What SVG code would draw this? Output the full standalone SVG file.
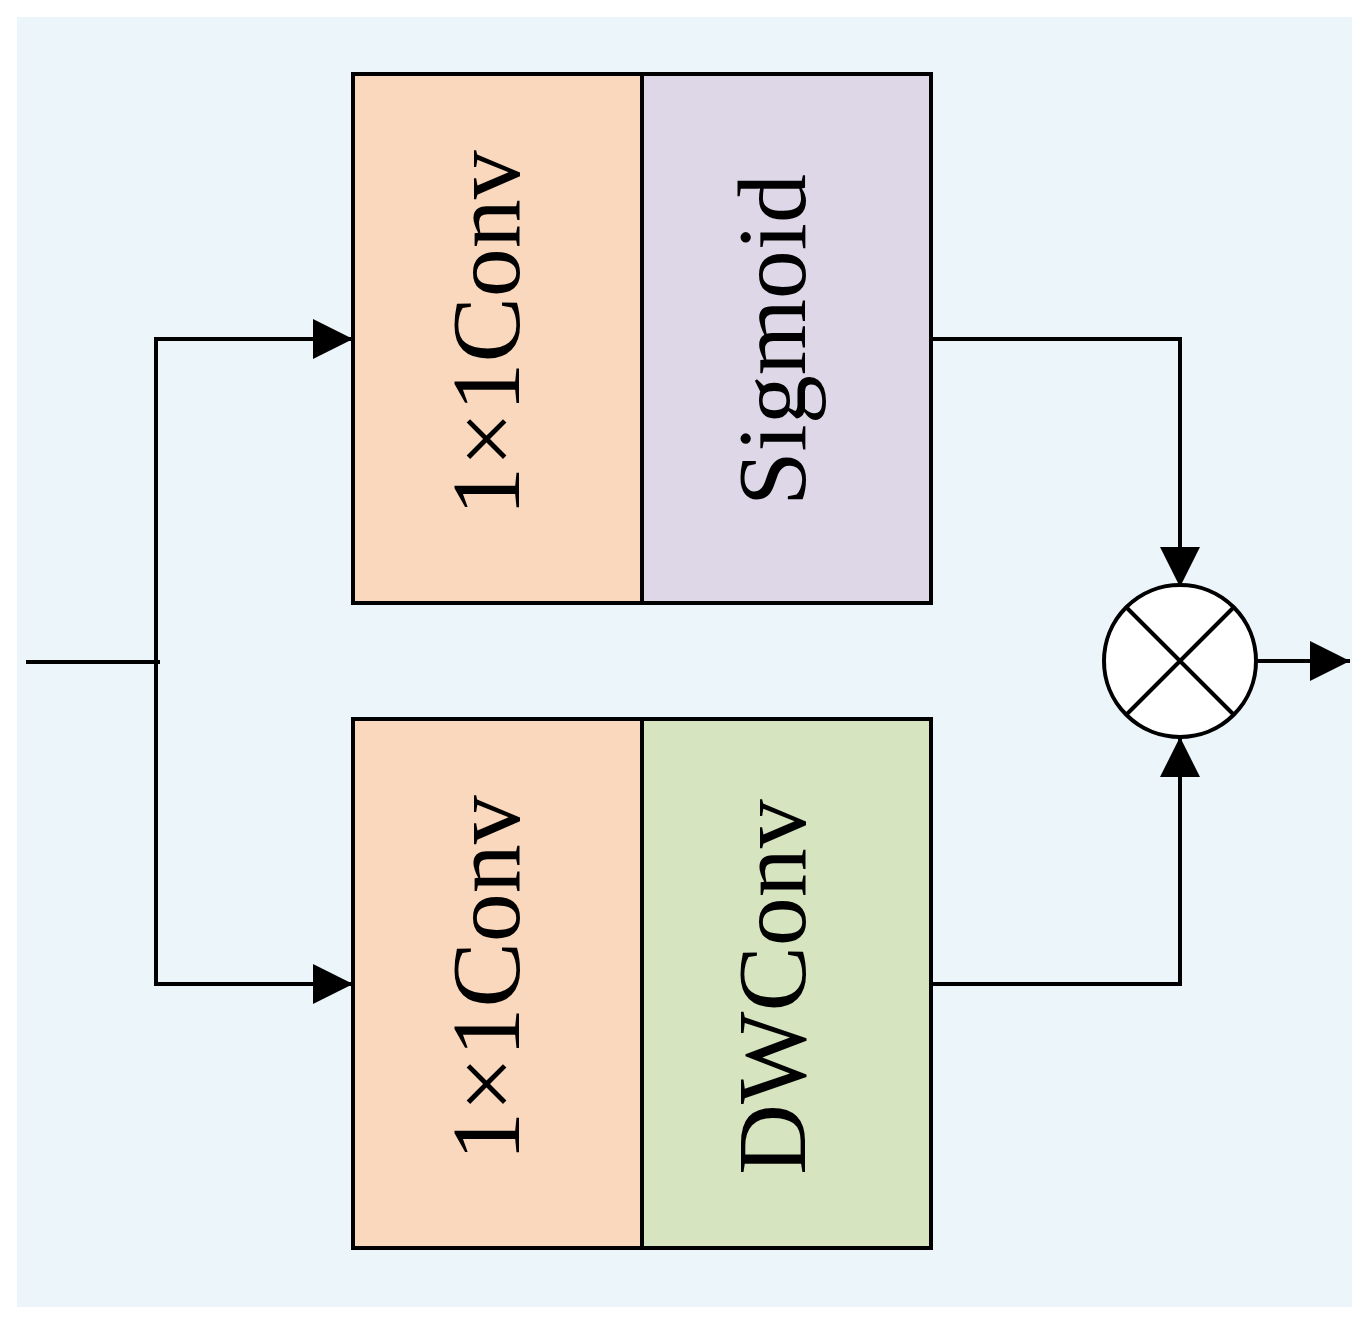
<svg xmlns="http://www.w3.org/2000/svg" width="1367" height="1332" viewBox="0 0 1367 1332">
<defs>
<style>
.box{stroke:#000;stroke-width:4;stroke-linejoin:miter}
.line{fill:none;stroke:#000;stroke-width:4}
.lbl{font-family:"Liberation Serif","Times New Roman",serif;font-size:98px;fill:#000;text-anchor:middle}
</style>
<marker id="arr" viewBox="0 0 40 40" refX="40" refY="20" markerWidth="40" markerHeight="40" markerUnits="userSpaceOnUse" orient="auto">
<path d="M0,0 L40,20 L0,40 Z" fill="#000"/>
</marker>
</defs>
<rect x="0" y="0" width="1367" height="1332" fill="#ffffff"/>
<rect x="17" y="17" width="1335" height="1290" fill="#ecf5f9"/>
<g id="conv-top">
<rect class="box" x="353" y="74" width="289" height="529" fill="#fad8bd"/>
<text class="lbl" transform="translate(519,333) rotate(-90)">1×1Conv</text>
</g>
<g id="sigmoid">
<rect class="box" x="642" y="74" width="289" height="529" fill="#ddd7e8"/>
<text class="lbl" transform="translate(805,340) rotate(-90)">Sigmoid</text>
</g>
<g id="conv-bottom">
<rect class="box" x="353" y="719" width="289" height="529" fill="#fad8bd"/>
<text class="lbl" transform="translate(519,978) rotate(-90)">1×1Conv</text>
</g>
<g id="dwconv">
<rect class="box" x="642" y="719" width="289" height="529" fill="#d7e4c0"/>
<text class="lbl" transform="translate(805,987) rotate(-90)">DWConv</text>
</g>
<g id="multiply">
<circle cx="1180" cy="661" r="76" fill="#ffffff" stroke="#000" stroke-width="4"/>
<path class="line" d="M1126,607 L1234,715 M1234,607 L1126,715"/>
</g>
<g id="connectors">
<path class="line" d="M26,662 L160,662"/>
<path class="line" d="M353,339 L156,339 L156,984 L353,984" marker-end="none"/>
<path class="line" d="M156,339 L353,339" marker-end="url(#arr)"/>
<path class="line" d="M156,984 L353,984" marker-end="url(#arr)"/>
<path class="line" d="M931,339 L1180,339 L1180,587" marker-end="url(#arr)"/>
<path class="line" d="M931,984 L1180,984 L1180,737" marker-end="url(#arr)"/>
<path class="line" d="M1256,661 L1350,661" marker-end="url(#arr)"/>
</g>
</svg>
